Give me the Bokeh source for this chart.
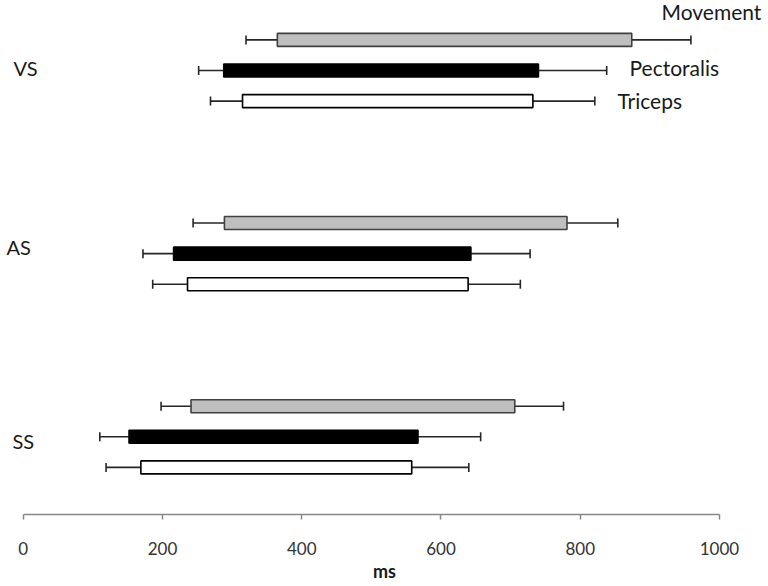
from bokeh.plotting import figure
from bokeh.models import ColumnDataSource, Range1d, Label, Whisker, TeeHead, FixedTicker
from bokeh.transform import dodge
from bokeh.embed import file_html
from bokeh.resources import INLINE

# ---- data (ms) ----
groups = ["VS", "AS", "SS"]
series = ["Movement", "Pectoralis", "Triceps"]

movement_onset = [365, 289, 241]
movement_onset_sd = [45, 45, 43]
movement_offset = [874, 781, 706]
movement_offset_sd = [85, 73, 70]

pectoralis_onset = [288, 216, 152]
pectoralis_onset_sd = [36, 44, 42]
pectoralis_offset = [740, 643, 567]
pectoralis_offset_sd = [98, 85, 90]

triceps_onset = [315, 236, 169]
triceps_onset_sd = [46, 50, 50]
triceps_offset = [732, 639, 558]
triceps_offset_sd = [89, 75, 82]

x_ticks = [0, 200, 400, 600, 800, 1000]
x_label = "ms"

FONT = "Lato"

p = figure(width=768, height=586, x_range=Range1d(-32.6, 1070.4),
           y_range=Range1d(-0.4242, 2.3822), y_axis_location=None,
           toolbar_location=None, output_backend="svg",
           min_border_left=0, min_border_right=0, min_border_top=0,
           min_border_bottom=72)
p.outline_line_color = None
p.grid.visible = False

ypos = [len(groups) - 1 - i for i in range(len(groups))]
step = 0.167
bar_h = 0.071

specs = [
    ("Movement", movement_onset, movement_onset_sd, movement_offset, movement_offset_sd,
     step, "#bfbfbf", "#404040"),
    ("Pectoralis", pectoralis_onset, pectoralis_onset_sd, pectoralis_offset, pectoralis_offset_sd,
     0.0, "#000000", "#000000"),
    ("Triceps", triceps_onset, triceps_onset_sd, triceps_offset, triceps_offset_sd,
     -step, "#ffffff", "#000000"),
]

for name, on, on_sd, off, off_sd, dy, fill, line in specs:
    src = ColumnDataSource(dict(
        y=ypos, onset=on, offset=off,
        lo=[a - b for a, b in zip(on, on_sd)],
        hi=[a + b for a, b in zip(off, off_sd)],
    ))
    w = Whisker(source=src, base=dodge("y", dy, range=p.y_range), lower="lo", upper="hi",
                dimension="width", line_color="#262626", line_width=1.6,
                lower_head=TeeHead(size=9, line_color="#262626", line_width=1.6),
                upper_head=TeeHead(size=9, line_color="#262626", line_width=1.6),
                level="underlay")
    p.add_layout(w)
    p.hbar(y=dodge("y", dy, range=p.y_range), left="onset", right="offset", height=bar_h,
           fill_color=fill, line_color=line, line_width=1.6, source=src)

# x axis
ax = p.xaxis[0]
ax.ticker = FixedTicker(ticks=x_ticks)
ax.bounds = (0, 1000)
ax.axis_line_color = "#868686"
ax.axis_line_width = 1.5
ax.major_tick_line_color = "#868686"
ax.major_tick_line_width = 1.5
ax.major_tick_out = 5
ax.major_tick_in = 0
ax.minor_tick_out = 0
ax.minor_tick_in = 0
ax.major_label_text_font = FONT
ax.major_label_text_font_size = "17px"
ax.major_label_text_color = "#333333"
ax.major_label_standoff = 22
ax.axis_label = x_label
ax.axis_label_text_font = FONT
ax.axis_label_text_font_size = "18px"
ax.axis_label_text_font_style = "bold"
ax.axis_label_text_color = "#1a1a1a"
ax.axis_label_standoff = 2

# category labels
grp_off = [3, 7, -4]
grp_x = [13, 6, 12]
for g, yv, o, gx in zip(groups, ypos, grp_off, grp_x):
    p.add_layout(Label(x=gx, x_units="screen", y=yv, y_offset=o, text=g,
                       text_baseline="middle", text_font=FONT, text_font_size="20px",
                       text_color="#1a1a1a"))

# series labels (top group)
ser_x = [661, 629, 617]
ser_dy = [step, 0.0, -step]
ser_off = [28, 3, 1]
for s, sx, dy, o in zip(series, ser_x, ser_dy, ser_off):
    p.add_layout(Label(x=sx, x_units="screen", y=ypos[0] + dy, y_offset=o, text=s,
                       text_baseline="middle", text_font=FONT, text_font_size="21px",
                       text_color="#1a1a1a"))

open("out.html", "w").write(file_html(p, INLINE))
